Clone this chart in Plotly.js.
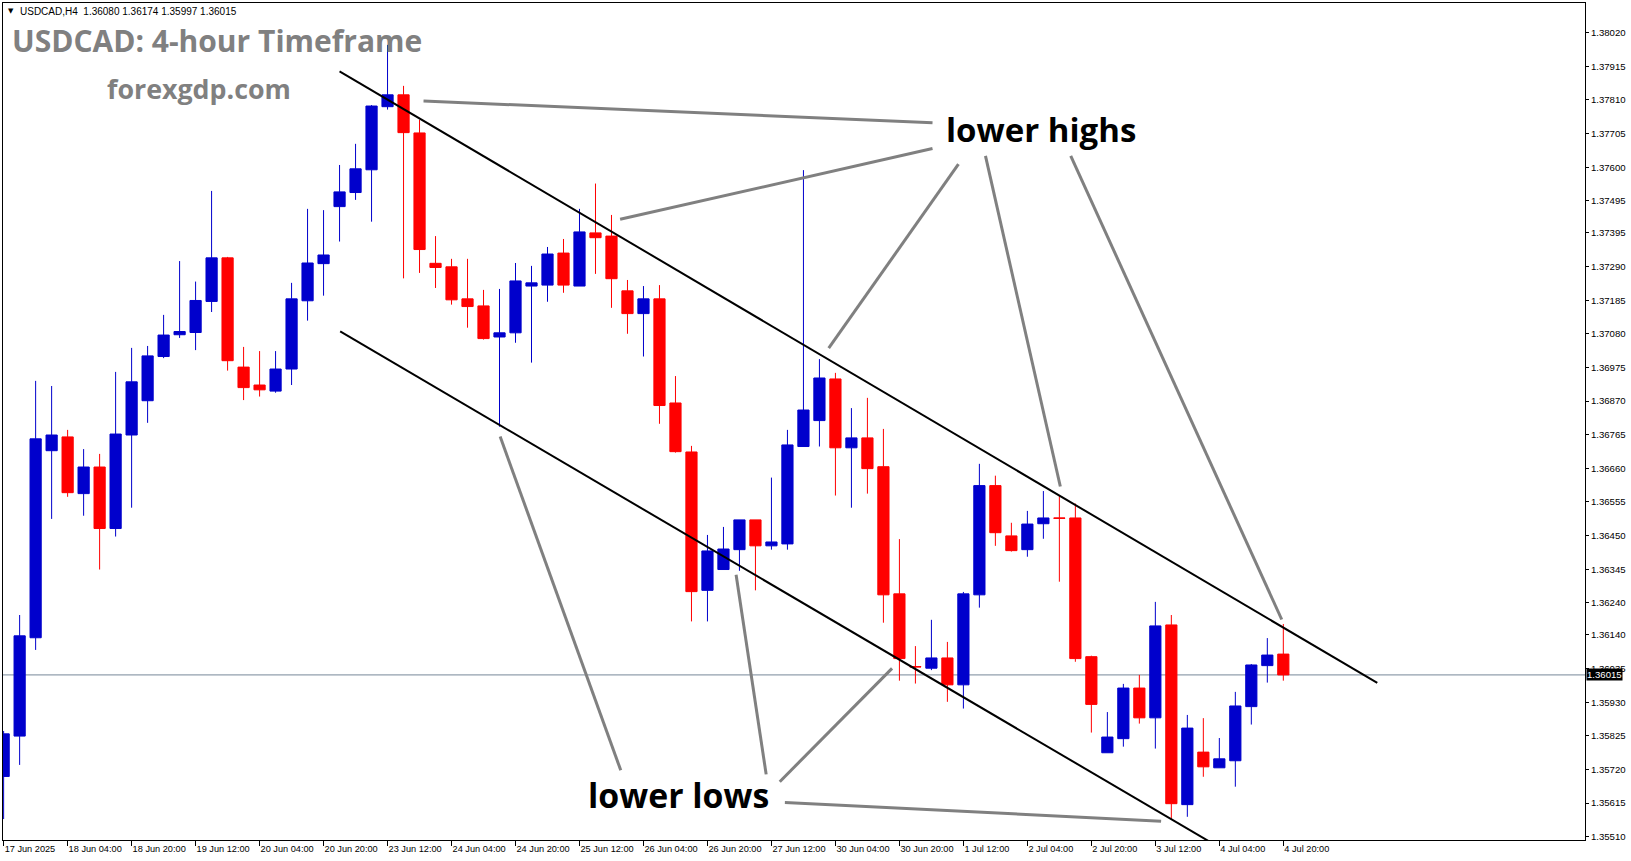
<!DOCTYPE html>
<html><head><meta charset="utf-8">
<script src="https://cdn.plot.ly/plotly-3.0.1.min.js"></script>
<style>html,body{margin:0;padding:0;background:#fff;overflow:hidden}#chart{width:1631px;height:861px}</style>
</head><body><div id="chart"></div>
<script>
// ---- data (USDCAD H4) ----
const barTimes = [
 "17 Jun 12:00","17 Jun 16:00","17 Jun 20:00",
 "18 Jun 00:00","18 Jun 04:00","18 Jun 08:00","18 Jun 12:00","18 Jun 16:00","18 Jun 20:00",
 "19 Jun 00:00","19 Jun 04:00","19 Jun 08:00","19 Jun 12:00","19 Jun 16:00","19 Jun 20:00",
 "20 Jun 00:00","20 Jun 04:00","20 Jun 08:00","20 Jun 12:00","20 Jun 16:00","20 Jun 20:00",
 "23 Jun 00:00","23 Jun 04:00","23 Jun 08:00","23 Jun 12:00","23 Jun 16:00","23 Jun 20:00",
 "24 Jun 00:00","24 Jun 04:00","24 Jun 08:00","24 Jun 12:00","24 Jun 16:00","24 Jun 20:00",
 "25 Jun 00:00","25 Jun 04:00","25 Jun 08:00","25 Jun 12:00","25 Jun 16:00","25 Jun 20:00",
 "26 Jun 00:00","26 Jun 04:00","26 Jun 08:00","26 Jun 12:00","26 Jun 16:00","26 Jun 20:00",
 "27 Jun 00:00","27 Jun 04:00","27 Jun 08:00","27 Jun 12:00","27 Jun 16:00","27 Jun 20:00",
 "30 Jun 00:00","30 Jun 04:00","30 Jun 08:00","30 Jun 12:00","30 Jun 16:00","30 Jun 20:00",
 "1 Jul 00:00","1 Jul 04:00","1 Jul 08:00","1 Jul 12:00","1 Jul 16:00","1 Jul 20:00",
 "2 Jul 00:00","2 Jul 04:00","2 Jul 08:00","2 Jul 12:00","2 Jul 16:00","2 Jul 20:00",
 "3 Jul 00:00","3 Jul 04:00","3 Jul 08:00","3 Jul 12:00","3 Jul 16:00","3 Jul 20:00",
 "4 Jul 00:00","4 Jul 04:00","4 Jul 08:00","4 Jul 12:00","4 Jul 16:00","4 Jul 20:00"
];
const openP = [1.35698,1.35824,1.36131,1.36715,1.36758,1.36581,1.36664,1.36472,1.36764,1.36871,
1.37009,1.37077,1.37084,1.37181,1.37317,1.36976,1.36920,1.36901,1.36970,1.37183,
1.37299,1.37477,1.37521,1.37592,1.37789,1.37826,1.37707,1.37300,1.37289,1.37189,
1.37167,1.37070,1.37083,1.37229,1.37232,1.37332,1.37229,1.37395,1.37385,1.37214,
1.37143,1.37189,1.36864,1.36711,1.36279,1.36344,1.36406,1.36499,1.36418,1.36424,
1.36728,1.36809,1.36939,1.36724,1.36755,1.36665,1.36268,1.36041,1.36036,1.36068,
1.35984,1.36265,1.36606,1.36449,1.36406,1.36487,1.36505,1.36505,1.36072,1.35772,
1.35816,1.35974,1.35881,1.36171,1.35610,1.35774,1.35725,1.35747,1.35916,1.36044,
1.36080];
const highP = [1.35840,1.36202,1.36933,1.36917,1.36780,1.36720,1.36705,1.36961,1.37036,1.37042,
1.37139,1.37307,1.37243,1.37526,1.37320,1.37039,1.37026,1.37026,1.37239,1.37470,
1.37466,1.37607,1.37673,1.37794,1.37982,1.37854,1.37748,1.37385,1.37314,1.37314,
1.37217,1.37220,1.37301,1.37292,1.37351,1.37376,1.37470,1.37549,1.37451,1.37248,
1.37229,1.37232,1.36948,1.36730,1.36452,1.36477,1.36499,1.36499,1.36631,1.36780,
1.37591,1.37001,1.36958,1.36848,1.36880,1.36783,1.36439,1.36105,1.36187,1.36118,
1.36274,1.36674,1.36637,1.36490,1.36527,1.36589,1.36575,1.36550,1.36075,1.35899,
1.35987,1.36015,1.36243,1.36202,1.35890,1.35880,1.35818,1.35962,1.36049,1.36130,
1.36174];
const lowP = [1.35565,1.35734,1.36093,1.36502,1.36571,1.36512,1.36344,1.36447,1.36537,1.36802,
1.37004,1.37067,1.37029,1.37148,1.36965,1.36873,1.36884,1.36896,1.36920,1.37121,
1.37199,1.37368,1.37498,1.37430,1.37780,1.37253,1.37270,1.37223,1.37171,1.37099,
1.37062,1.36790,1.37052,1.36990,1.37180,1.37208,1.37229,1.37267,1.37161,1.37080,
1.37009,1.36799,1.36709,1.36182,1.36182,1.36344,1.36340,1.36279,1.36406,1.36406,
1.36728,1.36728,1.36575,1.36537,1.36581,1.36178,1.35997,1.35988,1.36030,1.35931,
1.35910,1.36225,1.36418,1.36400,1.36384,1.36440,1.36306,1.36056,1.35835,1.35772,
1.35791,1.35863,1.35785,1.35566,1.35572,1.35697,1.35725,1.35666,1.35860,1.35991,
1.35997];
const closeP = [1.35831,1.36137,1.36752,1.36764,1.36584,1.36664,1.36472,1.36767,1.36930,1.37011,
1.37076,1.37087,1.37184,1.37317,1.36996,1.36912,1.36905,1.36970,1.37189,1.37301,
1.37326,1.37523,1.37595,1.37791,1.37826,1.37708,1.37343,1.37287,1.37186,1.37165,
1.37065,1.37083,1.37245,1.37239,1.37329,1.37232,1.37398,1.37380,1.37252,1.37143,
1.37189,1.36856,1.36712,1.36275,1.36402,1.36408,1.36499,1.36418,1.36430,1.36733,
1.36842,1.36942,1.36724,1.36755,1.36659,1.36265,1.36066,1.36040,1.36068,1.35984,
1.36268,1.36606,1.36459,1.36403,1.36486,1.36505,1.36504,1.36066,1.35923,1.35821,
1.35974,1.35881,1.36168,1.35613,1.35849,1.35728,1.35753,1.35918,1.36046,1.36077,
1.36015];

const xTickLabels = ["17 Jun 2025","18 Jun 04:00","18 Jun 20:00","19 Jun 12:00","20 Jun 04:00","20 Jun 20:00",
 "23 Jun 12:00","24 Jun 04:00","24 Jun 20:00","25 Jun 12:00","26 Jun 04:00","26 Jun 20:00","27 Jun 12:00",
 "30 Jun 04:00","30 Jun 20:00","1 Jul 12:00","2 Jul 04:00","2 Jul 20:00","3 Jul 12:00","4 Jul 04:00","4 Jul 20:00"];
const yTickLabels = ["1.38020","1.37915","1.37810","1.37705","1.37600","1.37495","1.37395","1.37290","1.37185",
 "1.37080","1.36975","1.36870","1.36765","1.36660","1.36555","1.36450","1.36345","1.36240","1.36140",
 "1.36035","1.35930","1.35825","1.35720","1.35615","1.35510"];

const lastPrice = 1.36015;
const infoText = "USDCAD,H4\u00a0\u00a01.36080 1.36174 1.35997 1.36015";

// channel trendlines: [barIndex, price] endpoints
const channelUpperX = [21.0, 85.875], channelUpperY = [1.378995, 1.359898];
const channelLowerX = [21.04, 76.5],  channelLowerY = [1.370872, 1.354619];

// pointer lines [x0,y0,x1,y1] (bar index, price)
const pointersHighs = [[26.25,1.378068,58.07,1.377390],[38.54,1.374374,58.07,1.376582],
  [51.58,1.370350,59.69,1.376095],[66.06,1.366033,61.38,1.376354],[79.90,1.361880,66.71,1.376354]];
const pointersLows = [[31.04,1.367590,38.58,1.357172],[45.79,1.363276,47.67,1.357044],
  [48.52,1.356816,55.54,1.360354],[48.84,1.356167,72.36,1.355583]];

// ---- build ----
const xIdx = barTimes.map((_, i) => i);
const BLUE = '#0000CC', RED = '#FF0000';
const traces = [
  {type:'candlestick', x:xIdx, open:openP, high:highP, low:lowP, close:closeP, text:barTimes,
   increasing:{line:{color:BLUE,width:1}, fillcolor:BLUE},
   decreasing:{line:{color:RED,width:1}, fillcolor:RED},
   whiskerwidth:0, hoverinfo:'skip'},
  {type:'scatter', mode:'lines', x:channelUpperX, y:channelUpperY, line:{color:'#000',width:2}, hoverinfo:'skip'},
  {type:'scatter', mode:'lines', x:channelLowerX, y:channelLowerY, line:{color:'#000',width:2}, hoverinfo:'skip'}
];

const shapes = [
  {type:'line', xref:'paper', x0:0, x1:1, yref:'y', y0:lastPrice, y1:lastPrice, line:{color:'#778899',width:1}, layer:'below'}
];
pointersHighs.concat(pointersLows).forEach(p => shapes.push({
  type:'line', xref:'x', yref:'y', x0:p[0], y0:p[1], x1:p[2], y1:p[3], line:{color:'#808080',width:3}, layer:'above'}));

const tickIdx = xIdx.filter(i => i % 4 === 0);
const axisFont = {family:'Liberation Sans, Arial, sans-serif', size:9.6, color:'#000'};

const layout = {
  width:1631, height:861,
  margin:{l:3, r:46, t:3, b:21, pad:0},
  paper_bgcolor:'#ffffff', plot_bgcolor:'#ffffff',
  showlegend:false, hovermode:false, dragmode:false,
  boxgap:0.3, boxgroupgap:0,
  xaxis:{type:'linear', range:[-0.04, 98.86], showgrid:false, zeroline:false,
    showline:true, linecolor:'#000', linewidth:1, mirror:true,
    ticks:'outside', ticklen:5, tickwidth:1, tickcolor:'#000',
    tickmode:'array', tickvals:tickIdx, ticktext:xTickLabels, tickangle:0,
    ticklabelposition:'outside right', tickfont:{family:axisFont.family, size:9.2, color:'#000'},
    rangeslider:{visible:false}, fixedrange:true},
  yaxis:{side:'right', range:[1.354996, 1.381127], showgrid:false, zeroline:false,
    showline:true, linecolor:'#000', linewidth:1, mirror:true,
    ticks:'outside', ticklen:3, tickwidth:1, tickcolor:'#000',
    tickmode:'array', tickvals:yTickLabels.map(Number), ticktext:yTickLabels,
    tickfont:axisFont, fixedrange:true},
  shapes:shapes,
  annotations:[
    {xref:'paper', yref:'paper', x:0.0019, y:0.9904, xanchor:'left', yanchor:'middle', showarrow:false,
     text:'\u25BC', font:{family:'DejaVu Sans, sans-serif', size:7, color:'#000'}},
    {xref:'paper', yref:'paper', x:0.0096, y:0.9904, xanchor:'left', yanchor:'middle', showarrow:false,
     text:infoText, font:{family:'Liberation Sans, Arial, sans-serif', size:10, color:'#000'}},
    {xref:'paper', yref:'paper', x:0.0047, y:0.9546, xanchor:'left', yanchor:'middle', showarrow:false,
     text:'<b>USDCAD: 4-hour Timeframe</b>', font:{family:'Open Sans, sans-serif', size:30, color:'#808080'}},
    {xref:'paper', yref:'paper', x:0.1238, y:0.8975, xanchor:'center', yanchor:'middle', showarrow:false,
     text:'<b>forexgdp.com</b>', font:{family:'Open Sans, sans-serif', size:26.8, color:'#808080'}},
    {xref:'paper', yref:'paper', x:0.6561, y:0.8487, xanchor:'center', yanchor:'middle', showarrow:false,
     text:'<b>lower highs</b>', font:{family:'Open Sans, sans-serif', size:33, color:'#000'}},
    {xref:'paper', yref:'paper', x:0.4273, y:0.0535, xanchor:'center', yanchor:'middle', showarrow:false,
     text:'<b>lower lows</b>', font:{family:'Open Sans, sans-serif', size:33.8, color:'#000'}},
    {xref:'paper', yref:'y', x:1, y:lastPrice, xanchor:'left', yanchor:'middle', xshift:1, showarrow:false,
     text:lastPrice.toFixed(5), bgcolor:'#000', borderpad:0,
     font:{family:'Liberation Sans, Arial, sans-serif', size:9.6, color:'#fff'}}
  ]
};

Plotly.newPlot('chart', traces, layout, {staticPlot:true, displayModeBar:false});
</script>
</body></html>
